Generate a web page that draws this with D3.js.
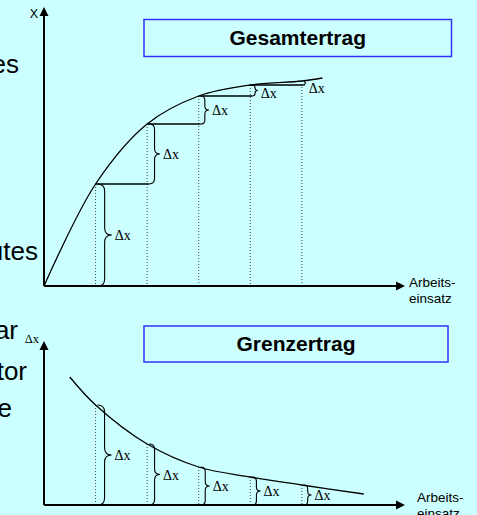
<!DOCTYPE html>
<html>
<head>
<meta charset="utf-8">
<script src="https://cdn.jsdelivr.net/npm/d3@7"></script>
<style>
  html, body { margin: 0; padding: 0; background: #ccffff; overflow: hidden; }
  svg { display: block; }
  .sans { font-family: Arial, "Liberation Sans", sans-serif; }
  .serif { font-family: "Times New Roman", "Liberation Serif", serif; }
</style>
</head>
<body>
<script>
// Arbeitseinsatz steps where the increments are marked
const schritte = [1, 2, 3, 4, 5];

// Gesamtertrag curve (top chart)
const gesamtEinsatz = [0, 1, 2, 3, 4, 5, 5.4];
const gesamtertrag = [0, 102, 162, 190, 201, 205, 208];

// Grenzertrag curve (bottom chart)
const grenzEinsatz = [0.5, 1, 2, 3, 4, 5, 6.2];
const grenzertrag = [128, 100, 61, 38, 28, 20, 11];

// cut off slide text on the left edge
const randText = ["es", "utes", "ar", "tor", "e"];
const randZeilen = [73, 260, 339, 380, 417];
const randRechts = [19, 38, 18, 27, 12];

const W = 477, H = 515;
const blue = "#3333ff";

const svg = d3.select("body")
  .append("svg")
  .attr("width", W)
  .attr("height", H);

svg.append("rect")
  .attr("width", W)
  .attr("height", H)
  .attr("fill", "#ccffff");

const x = d3.scaleLinear().domain([0, 7]).range([44, 405]);
const yTop = d3.scaleLinear().domain([0, 278]).range([286, 8]);
const yBot = d3.scaleLinear().domain([0, 164]).range([505, 341]);

// curly brace, open to the left, tip pointing right
const braceR = (h) => Math.min(h / 4, 3 + h / 25);
const brace = (bx, y1, y2) => {
  const r = braceR(y2 - y1);
  const mid = (y1 + y2) / 2;
  return `M${bx},${y1} Q${bx + r},${y1} ${bx + r},${y1 + r} L${bx + r},${mid - r}` +
    ` Q${bx + r},${mid} ${bx + 2 * r},${mid} Q${bx + r},${mid} ${bx + r},${mid + r}` +
    ` L${bx + r},${y2 - r} Q${bx + r},${y2} ${bx},${y2}`;
};
const braceTip = (bx, y1, y2) => bx + 2 * braceR(y2 - y1);

const drawAxes = (g, yScale, tipY) => {
  const xAxis = d3.axisBottom(x).tickValues([]).tickSizeOuter(0);
  g.append("g")
    .attr("transform", `translate(0,${yScale(0)})`)
    .call(xAxis)
    .call(a => a.select(".domain").attr("stroke", "#000").attr("stroke-width", 2)
      .attr("d", `M${x(0)},0H${x(7) - 8}`));
  g.append("path")
    .attr("d", `M${x(7)},${yScale(0)} l-9,-4.5 v9 z`)
    .attr("fill", "#000");

  const yAxis = d3.axisLeft(yScale).tickValues([]).tickSizeOuter(0);
  g.append("g")
    .attr("transform", `translate(${x(0)},0)`)
    .call(yAxis)
    .call(a => a.select(".domain").attr("stroke", "#000").attr("stroke-width", 2)
      .attr("d", `M0,${yScale(0)}V${tipY + 8}`));
  g.append("path")
    .attr("d", `M${x(0)},${tipY} l-4.5,9 h9 z`)
    .attr("fill", "#000");
};

const drawTitle = (g, bx, by, bw, bh, text) => {
  g.append("rect")
    .attr("x", bx).attr("y", by)
    .attr("width", bw).attr("height", bh)
    .attr("fill", "#ccffff")
    .attr("stroke", blue)
    .attr("stroke-width", 1.5);
  g.append("text")
    .attr("class", "sans")
    .attr("x", bx + bw / 2)
    .attr("y", by + bh / 2 + 7)
    .attr("text-anchor", "middle")
    .attr("font-size", 21)
    .attr("font-weight", "bold")
    .text(text);
};

const line = d3.line().curve(d3.curveCatmullRom.alpha(0.5));

// ---------- top chart: Gesamtertrag ----------
const topG = svg.append("g");
drawTitle(topG, 144, 19.5, 307.5, 37, "Gesamtertrag");

topG.selectAll(".dot")
  .data(schritte)
  .enter()
  .append("line")
  .attr("x1", d => x(d)).attr("x2", d => x(d))
  .attr("y1", d => yTop(gesamtertrag[d]))
  .attr("y2", yTop(0))
  .attr("stroke", "#444")
  .attr("stroke-width", 1)
  .attr("stroke-dasharray", "1,2");

topG.selectAll(".step")
  .data(schritte.slice(0, 4))
  .enter()
  .append("line")
  .attr("x1", d => x(d)).attr("x2", d => x(d + 1) + 2)
  .attr("y1", d => yTop(gesamtertrag[d]))
  .attr("y2", d => yTop(gesamtertrag[d]))
  .attr("stroke", "#000")
  .attr("stroke-width", 1.5);

topG.selectAll(".brace")
  .data(schritte)
  .enter()
  .append("path")
  .attr("d", d => brace(x(d) + 2, yTop(gesamtertrag[d]), yTop(gesamtertrag[d - 1])))
  .attr("fill", "none")
  .attr("stroke", "#000")
  .attr("stroke-width", 1.1);

topG.selectAll(".dlabel")
  .data(schritte)
  .enter()
  .append("text")
  .attr("class", "serif")
  .attr("font-size", 14)
  .attr("x", d => braceTip(x(d) + 2, yTop(gesamtertrag[d]), yTop(gesamtertrag[d - 1])) + 3)
  .attr("y", d => {
    const y1 = yTop(gesamtertrag[d]), y2 = yTop(gesamtertrag[d - 1]);
    return (y1 + y2) / 2 + Math.max(0, (18 - (y2 - y1)) / 3) + 5;
  })
  .text("\u0394x");

topG.append("path")
  .attr("d", line(gesamtEinsatz.map((e, i) => [x(e), yTop(gesamtertrag[i])])))
  .attr("fill", "none")
  .attr("stroke", "#000")
  .attr("stroke-width", 1.3);

drawAxes(topG, yTop, 7);

topG.append("text")
  .attr("class", "sans")
  .attr("x", 38).attr("y", 17.5)
  .attr("text-anchor", "end")
  .attr("font-size", 12.5)
  .text("X");

topG.append("text")
  .attr("class", "sans")
  .attr("font-size", 13.5)
  .attr("x", 409).attr("y", 286.5)
  .text("Arbeits-");
topG.append("text")
  .attr("class", "sans")
  .attr("font-size", 13.5)
  .attr("x", 409).attr("y", 303)
  .text("einsatz");

// ---------- bottom chart: Grenzertrag ----------
const botG = svg.append("g");
drawTitle(botG, 144, 326, 304, 36, "Grenzertrag");

botG.selectAll(".dot")
  .data(schritte)
  .enter()
  .append("line")
  .attr("x1", d => x(d)).attr("x2", d => x(d))
  .attr("y1", d => yBot(grenzertrag[d]))
  .attr("y2", yBot(0))
  .attr("stroke", "#444")
  .attr("stroke-width", 1)
  .attr("stroke-dasharray", "1,2");

botG.selectAll(".brace")
  .data(schritte)
  .enter()
  .append("path")
  .attr("d", d => brace(x(d) + 2, yBot(grenzertrag[d]), yBot(0)))
  .attr("fill", "none")
  .attr("stroke", "#000")
  .attr("stroke-width", 1.1);

botG.selectAll(".dlabel")
  .data(schritte)
  .enter()
  .append("text")
  .attr("class", "serif")
  .attr("font-size", 14)
  .attr("x", d => braceTip(x(d) + 2, yBot(grenzertrag[d]), yBot(0)) + 3)
  .attr("y", d => (yBot(grenzertrag[d]) + yBot(0)) / 2 + 5)
  .text("\u0394x");

botG.append("path")
  .attr("d", line(grenzEinsatz.map((e, i) => [x(e), yBot(grenzertrag[i])])))
  .attr("fill", "none")
  .attr("stroke", "#000")
  .attr("stroke-width", 1.3);

drawAxes(botG, yBot, 341);

botG.append("text")
  .attr("class", "serif")
  .attr("x", 39).attr("y", 343)
  .attr("text-anchor", "end")
  .attr("font-size", 12.5)
  .text("\u0394x");

botG.append("text")
  .attr("class", "sans")
  .attr("font-size", 13.5)
  .attr("x", 417).attr("y", 501.5)
  .text("Arbeits-");
botG.append("text")
  .attr("class", "sans")
  .attr("font-size", 13.5)
  .attr("x", 417).attr("y", 518)
  .text("einsatz");

// ---------- left edge text ----------
svg.selectAll(".rand")
  .data(randText)
  .enter()
  .append("text")
  .attr("class", "sans")
  .attr("font-size", 26)
  .attr("text-anchor", "end")
  .attr("x", (d, i) => randRechts[i])
  .attr("y", (d, i) => randZeilen[i])
  .text(d => d);
</script>
</body>
</html>
